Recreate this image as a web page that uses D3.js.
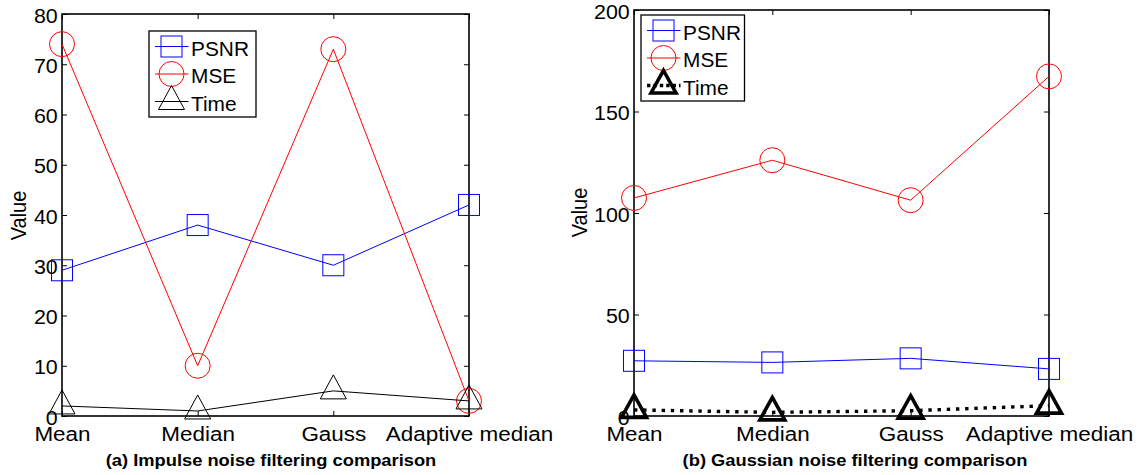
<!DOCTYPE html>
<html>
<head>
<meta charset="utf-8">
<script src="https://cdn.jsdelivr.net/npm/d3@7"></script>
<style>
  body { margin: 0; background: #fff; }
  svg { display: block; font-family: "Liberation Sans", Arial, Helvetica, sans-serif; }
  .tick line { stroke: #000; }
</style>
</head>
<body>
<svg id="chart" width="1139" height="475"></svg>
<script>
// categories shared by both panels
const categories = ["Mean", "Median", "Gauss", "Adaptive median"];

// (a) impulse noise
const impulsePsnr = [29, 38, 30, 42];
const impulseMse = [74, 10, 73, 3];
const impulseTime = [2, 1, 5, 3];
const impulseTicks = [0, 10, 20, 30, 40, 50, 60, 70, 80];

// (b) gaussian noise
const gaussPsnr = [27.2, 26.4, 28.4, 23.2];
const gaussMse = [107.4, 126, 106.3, 167.3];
const gaussTime = [3, 1.8, 2.6, 5.1];
const gaussTicks = [0, 50, 100, 150, 200];

const legendNames = ["PSNR", "MSE", "Time"];

const svg = d3.select("#chart");
const stretch = 1.07; // source text looks a bit wider than plain Arial

// marker shapes, centred on the data point
function square(g, s) {
  g.append("rect").attr("x", -10.5).attr("y", -10.5).attr("width", 21).attr("height", 21)
    .attr("fill", "none").attr("stroke", s.color).attr("stroke-width", 1);
}
function circle(g, s) {
  g.append("circle").attr("r", 12.5)
    .attr("fill", "none").attr("stroke", s.color).attr("stroke-width", 1);
}
function triangle(g, s) {
  // point sits at the centroid, like matlab's '^'
  const p = s.thick ? "M0,-15L12.5,7.5L-12.5,7.5Z" : "M0,-16L13,8L-13,8Z";
  g.append("path").attr("d", p)
    .attr("fill", "none").attr("stroke", s.color)
    .attr("stroke-width", s.thick ? 3.6 : 1).attr("stroke-linejoin", "miter");
}

function drawPanel(p) {
  const x = d3.scalePoint().domain(categories).range([p.left, p.right]);
  const y = d3.scaleLinear().domain(p.domain).range([p.bottom, p.top]);
  const g = svg.append("g");

  // inward ticks on all four sides
  const left = g.append("g").attr("transform", `translate(${p.left},0)`)
    .call(d3.axisLeft(y).tickValues(p.ticks).tickSize(-5).tickPadding(4));
  g.append("g").attr("transform", `translate(${p.right},0)`)
    .call(d3.axisRight(y).tickValues(p.ticks).tickSize(-5).tickFormat(""));
  g.append("g").attr("transform", `translate(0,${p.top})`)
    .call(d3.axisTop(x).tickSize(-5).tickFormat(""));
  const bottom = g.append("g").attr("transform", `translate(0,${p.bottom})`)
    .call(d3.axisBottom(x).tickSize(-5).tickPadding(10));
  g.selectAll(".domain").remove();

  left.selectAll("text").attr("font-size", 20).attr("dy", "0.4em")
    .attr("fill", "#000").attr("transform", `scale(${stretch},1)`);
  bottom.selectAll("text").attr("font-size", 21)
    .attr("fill", "#000").attr("transform", `scale(${stretch},1)`);
  g.selectAll("text").attr("font-family", null);

  g.append("rect")
    .attr("x", p.left).attr("y", p.top)
    .attr("width", p.right - p.left).attr("height", p.bottom - p.top)
    .attr("fill", "none").attr("stroke", "#000").attr("stroke-width", 1.6);

  // series
  p.series.forEach((s) => {
    const line = d3.line().x((d, i) => x(categories[i])).y((d) => y(d));
    g.append("path").attr("d", line(s.values))
      .attr("fill", "none").attr("stroke", s.color)
      .attr("stroke-width", s.dotted ? 3.4 : 1)
      .attr("stroke-dasharray", s.dotted ? "3.4,5.8" : null);
    s.values.forEach((v, i) => {
      const m = g.append("g").attr("transform", `translate(${x(categories[i])},${y(v)})`);
      s.marker(m, s);
    });
  });

  // y label
  g.append("text")
    .attr("transform", `translate(${p.ylabelX},${p.ylabelY}) scale(${stretch},1) rotate(-90)`)
    .attr("text-anchor", "middle").attr("font-size", 20).text("Value");

  // caption
  g.append("text")
    .attr("transform", `translate(${p.titleX},466) scale(1.11,1)`)
    .attr("text-anchor", "middle").attr("font-size", 16.5).attr("font-weight", "bold")
    .text(p.title);

  // legend
  const lg = g.append("g").attr("transform", `translate(${p.legend[0]},${p.legend[1]})`);
  lg.append("rect").attr("width", p.legend[2]).attr("height", 86)
    .attr("fill", "#fff").attr("stroke", "#000").attr("stroke-width", 1.3);
  p.series.forEach((s, i) => {
    const cy = 15.5 + 27.5 * i;
    lg.append("line").attr("x1", 6).attr("x2", 39.5).attr("y1", cy).attr("y2", cy)
      .attr("stroke", s.color).attr("stroke-width", s.dotted ? 3.4 : 1)
      .attr("stroke-dasharray", s.dotted ? "3.4,3" : null);
    s.marker(lg.append("g").attr("transform", `translate(22.5,${cy})`), s);
    lg.append("text").attr("transform", `translate(42,${cy + 9}) scale(${stretch},1)`)
      .attr("font-size", 19.5).text(legendNames[i]);
  });
}

drawPanel({
  left: 62, right: 469, top: 14, bottom: 416,
  domain: [0, 80], ticks: impulseTicks,
  ylabelX: 25.5, ylabelY: 215.5,
  titleX: 271, title: "(a) Impulse noise filtering comparison",
  legend: [149, 31, 107],
  series: [
    { values: impulsePsnr, color: "#0000ff", marker: square },
    { values: impulseMse, color: "#ff0000", marker: circle },
    { values: impulseTime, color: "#000", marker: triangle },
  ],
});

drawPanel({
  left: 634, right: 1049, top: 10, bottom: 416,
  domain: [0, 200], ticks: gaussTicks,
  ylabelX: 586.5, ylabelY: 212.5,
  titleX: 855, title: "(b) Gaussian noise filtering comparison",
  legend: [641, 15, 103.5],
  series: [
    { values: gaussPsnr, color: "#0000ff", marker: square },
    { values: gaussMse, color: "#ff0000", marker: circle },
    { values: gaussTime, color: "#000", marker: triangle, thick: true, dotted: true },
  ],
});
</script>
</body>
</html>
